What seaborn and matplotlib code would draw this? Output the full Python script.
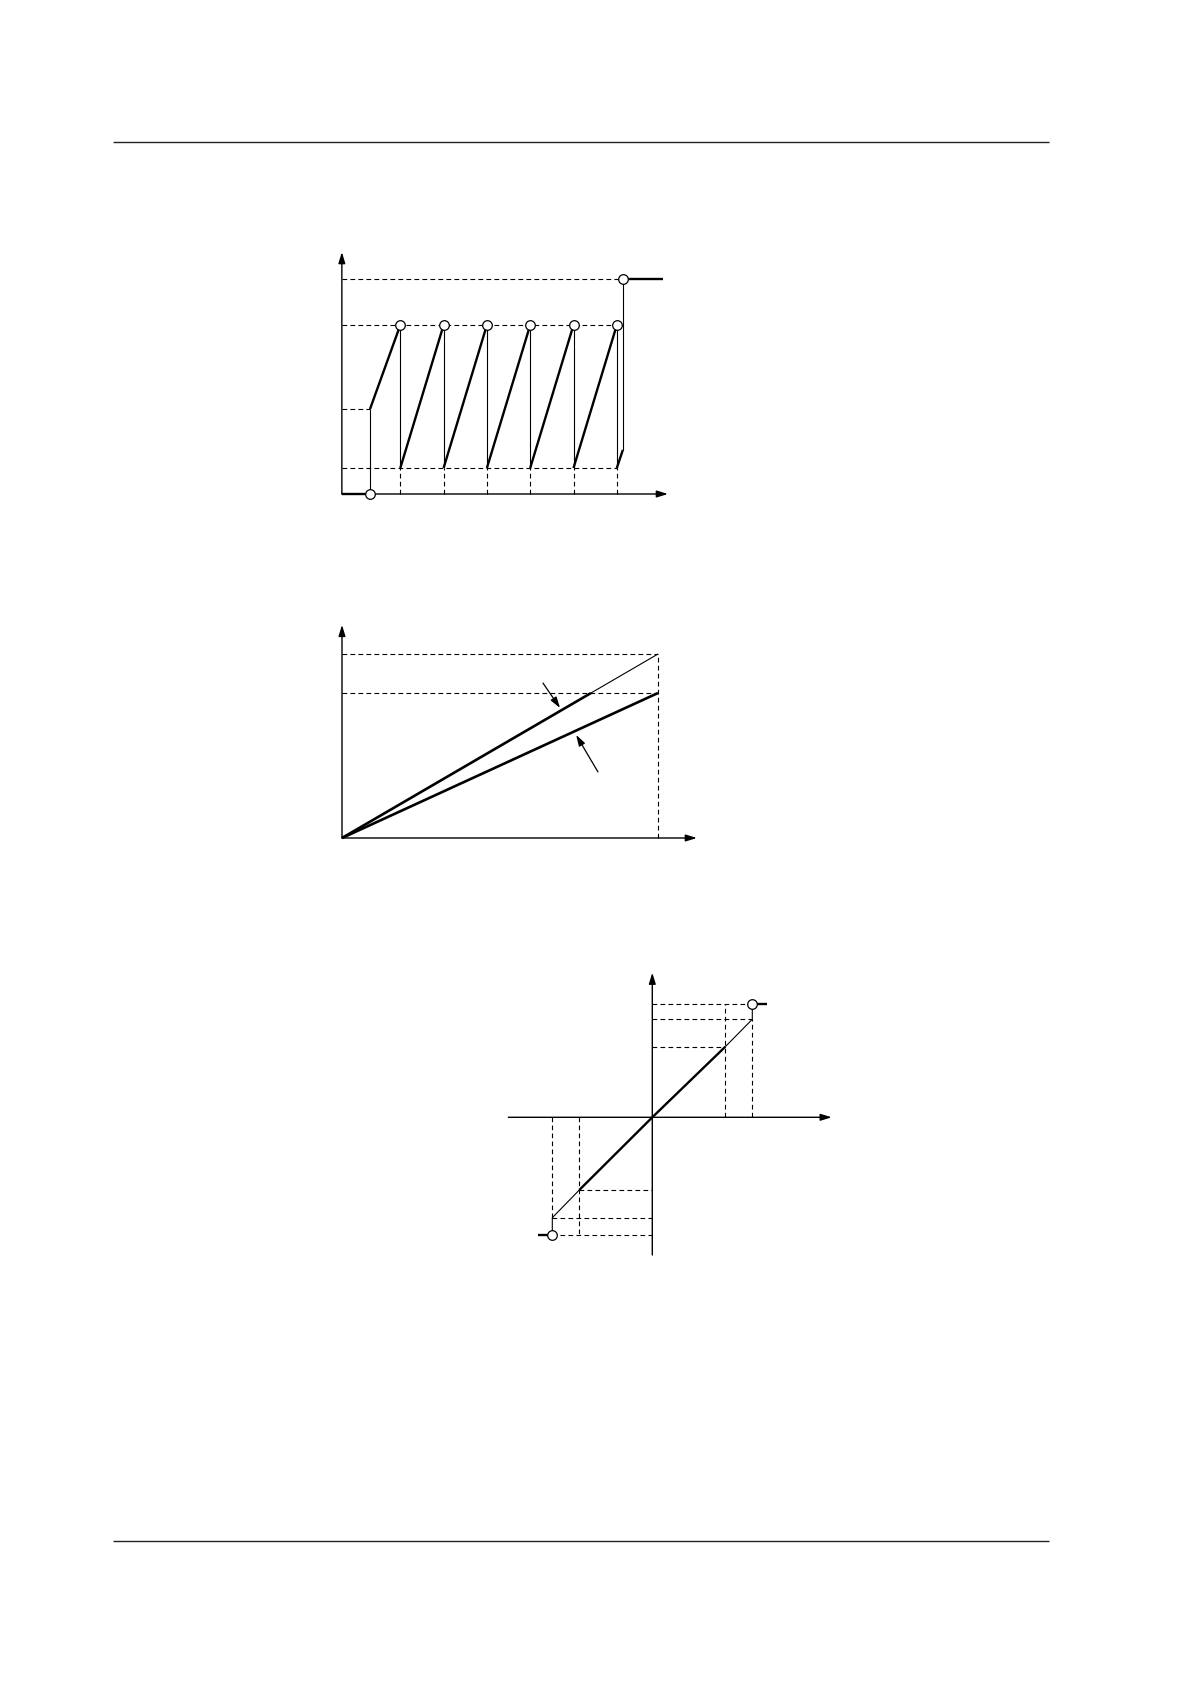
import matplotlib
matplotlib.use('Agg')
import matplotlib.pyplot as plt
import seaborn as sns
import pandas as pd

sns.set_theme(style='white')
plt.rcParams['font.family'] = ['DejaVu Sans']

W, H = 1191, 1684
DASH = (0, (4.2, 3.0))
THIN = 0.8
AXIS_LW = 1.0

# ---------------- diagram 1 : sawtooth ----------------
saw_start_t = 0.0
saw_resets = [0.7, 1.7, 2.7, 3.7, 4.7, 5.7]
saw_end_t = 5.84
saw_hold_t = 6.77
saw_low = 1.21
saw_start = 3.95
saw_high = 7.86
saw_top = 10.0
saw_end_level = 2.05
saw_xaxis = [-0.65, 6.88]
saw_yaxis = [0.0, 11.25]

# ---------------- diagram 2 : two ramps ----------------
ramp_x_end = 10.0
ramp_top = 10.0
ramp_mid = 7.88
ramp_xaxis = [0.0, 11.23]
ramp_yaxis = [0.0, 11.58]
ramp_pointers = [((6.36, 8.42), (6.90, 7.07)), ((8.10, 3.59), (7.41, 5.60))]

# ---------------- diagram 3 : limited linear ----------------
lin_x_inner = [-7.3, 7.3]
lin_x_outer = [-10.0, 10.0]
lin_y_inner = [-7.27, 7.06]
lin_y_sat = [-10.04, 9.8]
lin_y_circle = [-11.77, 11.3]
lin_hold = [-11.46, 11.44]
lin_xaxis = [-14.4, 17.94]
lin_yaxis = [-13.77, 14.46]


def place_axes(fig, x0_px, y0_px, sx, sy, xlim, ylim):
    left = x0_px + xlim[0] * sx
    right = x0_px + xlim[1] * sx
    bottom = y0_px - ylim[0] * sy
    top = y0_px - ylim[1] * sy
    ax = fig.add_axes([left / W, 1 - bottom / H, (right - left) / W, (bottom - top) / H])
    ax.set_xlim(xlim)
    ax.set_ylim(ylim)
    ax.axis('off')
    return ax


def segs_df(segs):
    rows = []
    for i, seg in enumerate(segs):
        for x, y in seg:
            rows.append({'x': x, 'y': y, 'seg': i})
    return pd.DataFrame(rows)


def draw_segs(ax, segs, lw):
    sns.lineplot(data=segs_df(segs), x='x', y='y', units='seg', estimator=None,
                 sort=False, color='black', lw=lw, legend=False, ax=ax,
                 solid_capstyle='butt')


def arrow(ax, start, end, lw=AXIS_LW):
    ax.annotate('', xy=end, xytext=start, annotation_clip=False,
                arrowprops=dict(arrowstyle='-|>,head_length=0.55,head_width=0.17',
                                lw=lw, color='black', mutation_scale=12,
                                shrinkA=0, shrinkB=0))


def circles(ax, xs, ys):
    sns.scatterplot(x=xs, y=ys, s=48, facecolor='white', edgecolor='black',
                    linewidth=0.9, zorder=5, ax=ax, legend=False)


fig = plt.figure(figsize=(W / 100, H / 100), dpi=100)

# page rules
bg = fig.add_axes([0, 0, 1, 1])
bg.set_xlim(0, W)
bg.set_ylim(H, 0)
bg.axis('off')
bg.hlines([142, 1541], 113, 1049, color='#222222', lw=1.0)

# ---- diagram 1
ax1 = place_axes(fig, 370, 494, 43.3, 21.5, [-1.2, 7.5], [-1.0, 12.0])
left = saw_xaxis[0]
thick = [[(left, 0), (saw_start_t, 0)],
         [(saw_start_t, saw_start), (saw_resets[0], saw_high)]]
for a, b in zip(saw_resets[:-1], saw_resets[1:]):
    thick.append([(a, saw_low), (b, saw_high)])
thick.append([(saw_resets[-1], saw_low), (saw_end_t, saw_end_level)])
thick.append([(saw_end_t, saw_top), (saw_hold_t, saw_top)])
thin = [[(saw_start_t, 0), (saw_start_t, saw_start)]]
for r in saw_resets:
    thin.append([(r, saw_high), (r, saw_low)])
thin.append([(saw_end_t, saw_end_level), (saw_end_t, saw_top)])

ax1.hlines(saw_top, left, saw_end_t, color='black', lw=THIN, linestyles=DASH)
ax1.hlines(saw_high, left, saw_resets[-1], color='black', lw=THIN, linestyles=DASH)
ax1.hlines(saw_start, left, saw_start_t, color='black', lw=THIN, linestyles=DASH)
ax1.hlines(saw_low, left, saw_resets[-1], color='black', lw=THIN, linestyles=DASH)
ax1.vlines(saw_resets, 0, saw_low, color='black', lw=THIN, linestyles=DASH)
draw_segs(ax1, thin, THIN)
draw_segs(ax1, thick, 1.7)
arrow(ax1, (saw_xaxis[0], 0), (saw_xaxis[1], 0))
arrow(ax1, (left, saw_yaxis[0]), (left, saw_yaxis[1]))
circles(ax1, [saw_start_t] + saw_resets + [saw_end_t],
        [0] + [saw_high] * len(saw_resets) + [saw_top])

# ---- diagram 2
ax2 = place_axes(fig, 342, 838, 31.6, 18.4, [-1.0, 12.5], [-1.0, 12.5])
ax2.hlines([ramp_top, ramp_mid], 0, ramp_x_end, color='black', lw=THIN, linestyles=DASH)
ax2.vlines(ramp_x_end, 0, ramp_top, color='black', lw=THIN, linestyles=DASH)
draw_segs(ax2, [[(ramp_mid, ramp_mid), (ramp_x_end, ramp_top)]], THIN)
draw_segs(ax2, [[(0, 0), (ramp_mid, ramp_mid)],
                [(0, 0), (ramp_x_end, ramp_mid)]], 1.9)
arrow(ax2, (ramp_xaxis[0], 0), (ramp_xaxis[1], 0))
arrow(ax2, (0, ramp_yaxis[0]), (0, ramp_yaxis[1]))
for start, end in ramp_pointers:
    arrow(ax2, start, end, lw=0.9)

# ---- diagram 3
ax3 = place_axes(fig, 652.3, 1117.3, 10.0, 10.0, [-16, 19.5], [-15.5, 16])
ax3.hlines([lin_y_circle[1], lin_y_sat[1]], 0, lin_x_outer[1], color='black', lw=THIN, linestyles=DASH)
ax3.hlines(lin_y_inner[1], 0, lin_x_inner[1], color='black', lw=THIN, linestyles=DASH)
ax3.hlines(lin_y_inner[0], lin_x_inner[0], 0, color='black', lw=THIN, linestyles=DASH)
ax3.hlines([lin_y_sat[0], lin_y_circle[0]], lin_x_outer[0], 0, color='black', lw=THIN, linestyles=DASH)
ax3.vlines(lin_x_inner[1], 0, lin_y_circle[1], color='black', lw=THIN, linestyles=DASH)
ax3.vlines(lin_x_outer[1], 0, lin_y_sat[1], color='black', lw=THIN, linestyles=DASH)
ax3.vlines(lin_x_outer[0], 0, lin_y_sat[0], color='black', lw=THIN, linestyles=DASH)
ax3.vlines(lin_x_inner[0], 0, lin_y_circle[0], color='black', lw=THIN, linestyles=DASH)
draw_segs(ax3, [[(lin_x_inner[1], lin_y_inner[1]), (lin_x_outer[1], lin_y_sat[1]),
                 (lin_x_outer[1], lin_y_circle[1])],
                [(lin_x_inner[0], lin_y_inner[0]), (lin_x_outer[0], lin_y_sat[0]),
                 (lin_x_outer[0], lin_y_circle[0])]], THIN)
draw_segs(ax3, [[(lin_x_inner[0], lin_y_inner[0]), (0, 0), (lin_x_inner[1], lin_y_inner[1])]], 1.7)
draw_segs(ax3, [[(lin_x_outer[1], lin_y_circle[1]), (lin_hold[1], lin_y_circle[1])],
                [(lin_hold[0], lin_y_circle[0]), (lin_x_outer[0], lin_y_circle[0])]], 1.7)
arrow(ax3, (lin_xaxis[0], 0), (lin_xaxis[1], 0))
arrow(ax3, (0, lin_yaxis[0]), (0, lin_yaxis[1]))
circles(ax3, lin_x_outer, lin_y_circle)

fig.savefig('out.png', dpi=100)
